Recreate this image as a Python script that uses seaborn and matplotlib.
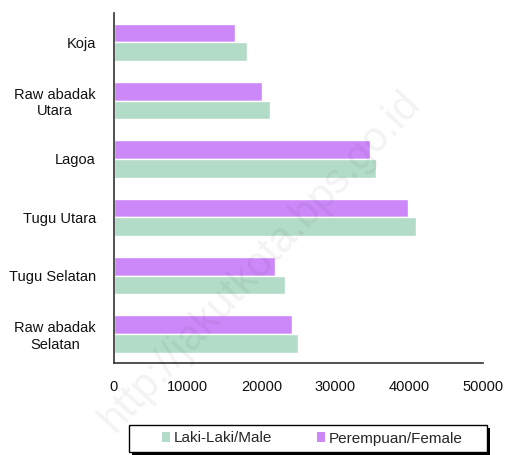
import matplotlib
matplotlib.use("Agg")
import matplotlib.pyplot as plt
import seaborn as sns
import pandas as pd
from matplotlib.patches import Patch, Rectangle

categories = ["Koja", "Raw abadak\nUtara", "Lagoa", "Tugu Utara", "Tugu Selatan", "Raw abadak\nSelatan"]
male = [18000, 21100, 35500, 40900, 23200, 24900]
female = [16400, 20050, 34700, 39800, 21800, 24100]
series_names = ["Laki-Laki/Male", "Perempuan/Female"]
xticks = [0, 10000, 20000, 30000, 40000, 50000]

colors = {"Laki-Laki/Male": "#b2dcc8", "Perempuan/Female": "#cc88f8"}

sns.set_theme(style="white")
plt.rcParams["font.family"] = ["Liberation Sans", "DejaVu Sans"]

df = pd.DataFrame({
    "wilayah": categories * 2,
    "jumlah": male + female,
    "jk": [series_names[0]] * len(categories) + [series_names[1]] * len(categories),
})

W, H = 505, 455
fig = plt.figure(figsize=(W / 100, H / 100), dpi=100)
ax = fig.add_axes([114 / W, 1 - 363 / H, (483 - 114) / W, (363 - 13) / H])

sns.barplot(data=df, x="jumlah", y="wilayah", hue="jk", order=categories,
            hue_order=[series_names[1], series_names[0]], palette=colors,
            orient="h", width=0.64, ax=ax, legend=False, saturation=1)

ax.set_xlim(0, 50000)
ax.set_xticks(xticks)
ax.set_xticklabels([str(t) for t in xticks], fontsize=10.5)
ax.tick_params(axis="x", direction="inout", length=7, width=1, colors="#222222", labelcolor="#111111", pad=9)
ax.tick_params(axis="y", length=0, labelsize=10.5, labelcolor="#111111", pad=13)
for lab in ax.get_yticklabels():
    lab.set_multialignment("center")
ax.set_xlabel("")
ax.set_ylabel("")
sns.despine(ax=ax)
ax.spines["left"].set_color("#333333")
ax.spines["bottom"].set_color("#333333")
ax.spines["left"].set_linewidth(1.2)
ax.spines["bottom"].set_linewidth(1.2)

# watermark
fig.text(260 / W, 1 - 262 / H, "http://jakutkota.bps.go.id", rotation=47, fontsize=30,
         color="#000000", alpha=0.05, ha="center", va="center")

# legend box with shadow
bx0, bx1, by0, by1 = 129, 487, 425, 452
fig.patches.append(Rectangle(((bx0 + 3) / W, 1 - (by1 + 3) / H), (bx1 - bx0) / W, (by1 - by0) / H,
                             transform=fig.transFigure, facecolor="#000000", edgecolor="none", zorder=1))
fig.patches.append(Rectangle((bx0 / W, 1 - by1 / H), (bx1 - bx0) / W, (by1 - by0) / H,
                             transform=fig.transFigure, facecolor="white", edgecolor="#000000",
                             linewidth=1.0, zorder=2))

handles = [Patch(facecolor=colors[s], edgecolor="none") for s in series_names]
leg = fig.legend(handles, series_names, loc="center left", bbox_to_anchor=(162 / W, 1 - 438.5 / H),
                 ncol=2, frameon=False, fontsize=11, borderpad=0, borderaxespad=0,
                 handlelength=0.55, handleheight=0.55, handletextpad=0.25, columnspacing=2.9)
leg.set_zorder(5)

fig.savefig("out.png", dpi=100)
